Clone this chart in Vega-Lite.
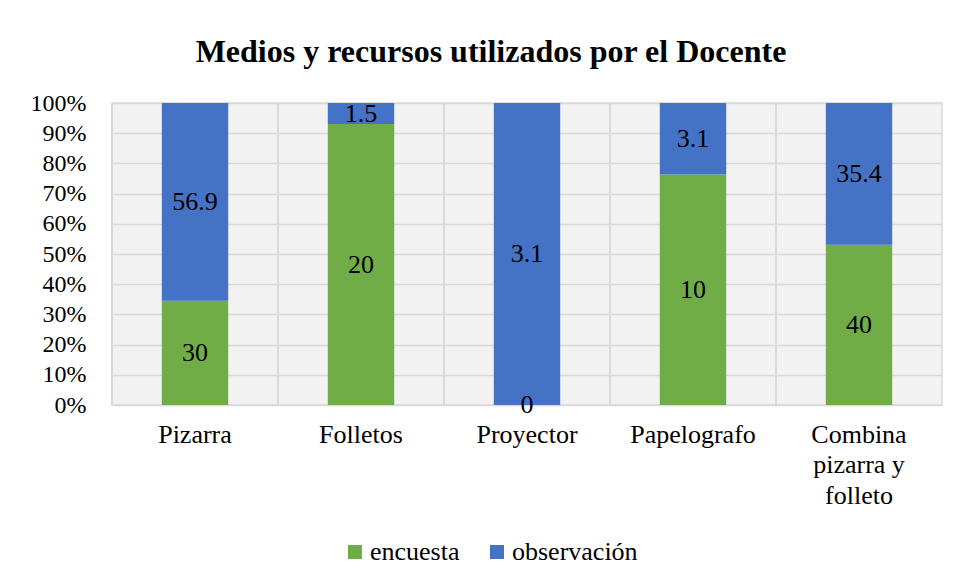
{
  "$schema": "https://vega.github.io/schema/vega-lite/v6.json",
  "autosize": {"type": "none"},
  "padding": {"left": 112, "top": 103, "right": 15, "bottom": 176},
  "width": 830,
  "height": 302,
  "background": "white",
  "title": {
    "text": "Medios y recursos utilizados por el Docente",
    "fontSize": 32,
    "fontWeight": "bold",
    "color": "#000000",
    "anchor": "middle",
    "dx": -36,
    "offset": 22
  },
  "data": {
    "values": [
      {"medio": "Pizarra", "serie": "encuesta", "valor": 30},
      {"medio": "Pizarra", "serie": "observación", "valor": 56.9},
      {"medio": "Folletos", "serie": "encuesta", "valor": 20},
      {"medio": "Folletos", "serie": "observación", "valor": 1.5},
      {"medio": "Proyector", "serie": "encuesta", "valor": 0},
      {"medio": "Proyector", "serie": "observación", "valor": 3.1},
      {"medio": "Papelografo", "serie": "encuesta", "valor": 10},
      {"medio": "Papelografo", "serie": "observación", "valor": 3.1},
      {"medio": "Combina pizarra y folleto", "serie": "encuesta", "valor": 40},
      {"medio": "Combina pizarra y folleto", "serie": "observación", "valor": 35.4}
    ]
  },
  "encoding": {
    "x": {
      "field": "medio",
      "type": "nominal",
      "sort": null,
      "scale": {"paddingInner": 0.6, "paddingOuter": 0.3},
      "axis": {
        "title": null,
        "labelAngle": 0,
        "labelPadding": 16,
        "labelFontSize": 26,
        "labelLineHeight": 30.5,
        "labelExpr": "datum.label == 'Combina pizarra y folleto' ? ['Combina', 'pizarra y', 'folleto'] : datum.label",
        "ticks": false,
        "domain": false,
        "grid": false
      }
    }
  },
  "layer": [
    {
      "mark": {"type": "rule", "color": "#d9d9d9", "strokeWidth": 1.5},
      "encoding": {
        "x": {"field": "medio", "type": "nominal", "sort": null, "bandPosition": -0.75}
      }
    },
    {
      "mark": {"type": "bar"},
      "encoding": {
        "y": {
          "field": "valor",
          "type": "quantitative",
          "stack": "normalize",
          "scale": {"domain": [0, 1]},
          "axis": {
            "title": null,
            "format": ".0%",
            "values": [0, 0.1, 0.2, 0.3, 0.4, 0.5, 0.6, 0.7, 0.8, 0.9, 1],
            "labelOverlap": false,
            "labelPadding": 26,
            "labelFontSize": 24,
            "ticks": false,
            "domain": false,
            "grid": true
          }
        },
        "order": {"field": "serie", "sort": "ascending"},
        "color": {
          "field": "serie",
          "type": "nominal",
          "scale": {"domain": ["encuesta", "observación"], "range": ["#70ad47", "#4472c4"]},
          "legend": {
            "title": null,
            "orient": "none",
            "legendX": 230,
            "legendY": 436,
            "direction": "horizontal",
            "symbolType": "square",
            "symbolSize": 196,
            "symbolStrokeWidth": 0,
            "labelOffset": 2,
            "columnPadding": 24
          }
        }
      }
    },
    {
      "mark": {"type": "text", "fontSize": 26, "color": "#000000", "baseline": "middle"},
      "encoding": {
        "y": {
          "field": "valor",
          "type": "quantitative",
          "stack": "normalize",
          "bandPosition": 0.5,
          "scale": {"domain": [0, 1]},
          "axis": {
            "title": null,
            "format": ".0%",
            "values": [0, 0.1, 0.2, 0.3, 0.4, 0.5, 0.6, 0.7, 0.8, 0.9, 1],
            "labelOverlap": false,
            "labelPadding": 26,
            "labelFontSize": 24,
            "ticks": false,
            "domain": false,
            "grid": true
          }
        },
        "order": {"field": "serie", "sort": "ascending"},
        "text": {"field": "valor", "type": "quantitative", "format": "~g"}
      }
    }
  ],
  "config": {
    "font": "Liberation Serif",
    "axis": {"labelFont": "Liberation Serif", "labelColor": "#000000", "gridColor": "#d9d9d9", "gridWidth": 1.5},
    "legend": {"labelFont": "Liberation Serif", "labelFontSize": 26, "labelColor": "#000000"},
    "text": {"font": "Liberation Serif"},
    "title": {"font": "Liberation Serif"},
    "view": {"fill": "#f2f2f2", "stroke": "#d9d9d9", "strokeWidth": 1.5}
  }
}
